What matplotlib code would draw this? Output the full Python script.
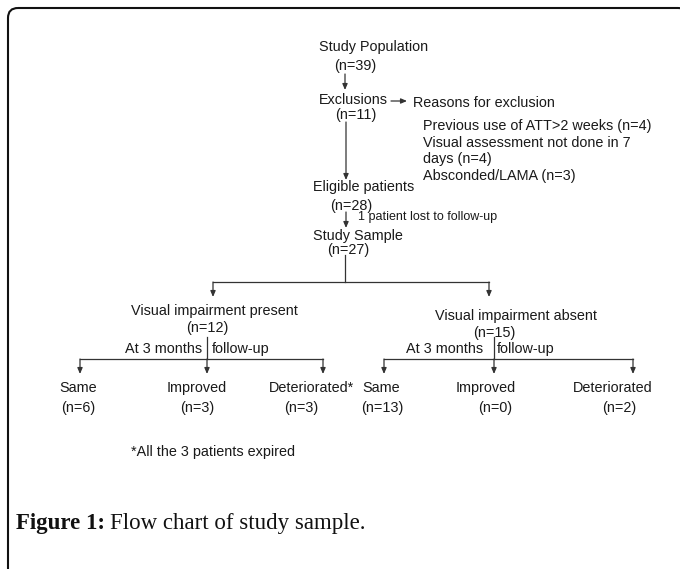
import matplotlib.pyplot as plt
from matplotlib.patches import FancyBboxPatch

# flow data
top_labels = ["Study Population", "Exclusions", "Eligible patients", "Study Sample"]
top_counts = [39, 11, 28, 27]
reasons = ["Previous use of ATT>2 weeks (n=4)",
           "Visual assessment not done in 7",
           "days (n=4)",
           "Absconded/LAMA (n=3)"]
lost_note = "1 patient lost to follow-up"
groups = ["Visual impairment present", "Visual impairment absent"]
group_counts = [12, 15]
outcomes = ["Same", "Improved", "Deteriorated"]
present_counts = [6, 3, 3]
absent_counts = [13, 0, 2]
footnote = "*All the 3 patients expired"

plt.rcParams['font.family'] = ['Liberation Sans', 'DejaVu Sans']
fig = plt.figure(figsize=(6.8, 5.69), dpi=100)
ax = fig.add_axes([0, 0, 1, 1])
ax.set_xlim(0, 680)
ax.set_ylim(569, 0)
ax.axis('off')

tc = '#1a1a1a'
lc = '#333333'
fs = 10.4

# frame
frame = FancyBboxPatch((8, 8), 680, 600, boxstyle="round,pad=0,rounding_size=10",
                       fill=False, ec='#111111', lw=1.5)
ax.add_patch(frame)


def arrow(x0, y0, x1, y1):
    ax.annotate("", xy=(x1, y1), xytext=(x0, y0),
                arrowprops=dict(arrowstyle='-|>,head_length=0.35,head_width=0.15',
                                color=lc, lw=0.9, shrinkA=0, shrinkB=0))


def line(xs, ys):
    ax.plot(xs, ys, color=lc, lw=0.9)


# top chain
ax.text(319, 47, top_labels[0], fontsize=fs, color=tc, va='center')
ax.text(334, 66, "(n=%d)" % top_counts[0], fontsize=fs, color=tc, va='center')
arrow(345, 74, 345, 90)
ax.text(319, 100, top_labels[1], fontsize=fs, color=tc, va='center')
ax.text(335, 115, "(n=%d)" % top_counts[1], fontsize=fs, color=tc, va='center')
arrow(391, 101, 407, 101)
ax.text(413, 103, "Reasons for exclusion", fontsize=fs, color=tc, va='center')
for i, r in enumerate(reasons):
    ax.text(423, 126 + i * 16.5, r, fontsize=fs, color=tc, va='center')
arrow(346, 122, 346, 180)
ax.text(313, 187, top_labels[2], fontsize=fs, color=tc, va='center')
ax.text(330, 206, "(n=%d)" % top_counts[2], fontsize=fs, color=tc, va='center')
arrow(346, 212, 346, 228)
ax.text(358, 217, lost_note, fontsize=9, color=tc, va='center')
ax.text(313, 236, top_labels[3], fontsize=fs, color=tc, va='center')
ax.text(327, 250, "(n=%d)" % top_counts[3], fontsize=fs, color=tc, va='center')

# split into groups
line([345, 345], [255, 282])
gx = [213, 489]
line([gx[0], gx[1]], [282, 282])
for x in gx:
    arrow(x, 282, x, 297)

group_centers = [214, 516]
group_y = [311, 316]
count_centers = [207, 494]
sub_x = [207, 494]
branch_x = [[80, 207, 323], [384, 494, 633]]
out_centers = [[78, 197, 311], [381, 486, 613]]
cnt_centers = [[78, 197, 301], [382, 495, 619]]
atm_x = [[125, 212], [406, 497]]
data_counts = [present_counts, absent_counts]

for g in range(2):
    ax.text(group_centers[g], group_y[g], groups[g], fontsize=fs, color=tc,
            ha='center', va='center')
    ax.text(count_centers[g], group_y[g] + 17, "(n=%d)" % group_counts[g],
            fontsize=fs, color=tc, ha='center', va='center')
    line([sub_x[g], sub_x[g]], [337, 359])
    ax.text(atm_x[g][0], 349, "At 3 months", fontsize=fs, color=tc, va='center')
    ax.text(atm_x[g][1], 349, "follow-up", fontsize=fs, color=tc, va='center')
    bx = branch_x[g]
    line([bx[0], bx[-1]], [359, 359])
    for k, x in enumerate(bx):
        arrow(x, 359, x, 374)
        lab = outcomes[k]
        if g == 0 and k == 2:
            lab = lab + "*"
        ax.text(out_centers[g][k], 388, lab, fontsize=fs, color=tc,
                ha='center', va='center')
        ax.text(cnt_centers[g][k], 408, "(n=%d)" % data_counts[g][k],
                fontsize=fs, color=tc, ha='center', va='center')

ax.text(131, 452, footnote, fontsize=fs, color=tc, va='center')

# caption
ax.text(16, 523, "Figure 1:", fontsize=16.5, fontweight='bold', color='#111111',
        family='Liberation Serif', va='center')
ax.text(110, 523, "Flow chart of study sample.", fontsize=16.5, color='#111111',
        family='Liberation Serif', va='center')

fig.savefig("out.png", dpi=100)
